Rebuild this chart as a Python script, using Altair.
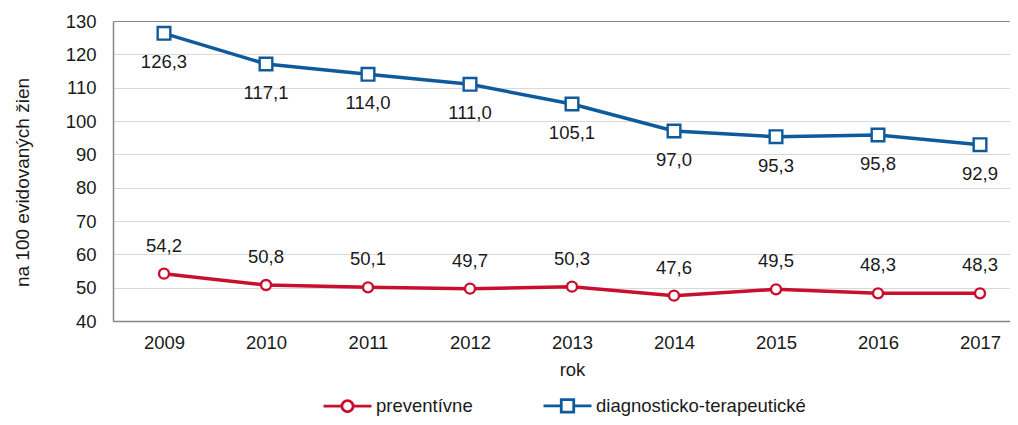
import altair as alt
import pandas as pd

years = [2009, 2010, 2011, 2012, 2013, 2014, 2015, 2016, 2017]
preventivne = [54.2, 50.8, 50.1, 49.7, 50.3, 47.6, 49.5, 48.3, 48.3]
diagnosticke = [126.3, 117.1, 114.0, 111.0, 105.1, 97.0, 95.3, 95.8, 92.9]
series_names = ["preventívne", "diagnosticko-terapeutické"]
series_colors = ["#C8102E", "#0F5A9C"]
y_ticks = [40, 50, 60, 70, 80, 90, 100, 110, 120, 130]

rows = []
for yr, v in zip(years, preventivne):
    rows.append({"year": yr, "value": v, "series": series_names[0]})
for yr, v in zip(years, diagnosticke):
    rows.append({"year": yr, "value": v, "series": series_names[1]})
df = pd.DataFrame(rows)

FONT = "Liberation Sans"
FS = 18.5
TXT = "#1a1a1a"

x_enc = alt.X(
    "year:Q",
    scale=alt.Scale(domain=[2008.5, 2017.294], nice=False, zero=False),
    axis=alt.Axis(
        values=years, format="d", grid=False, ticks=False, tickSize=0,
        labelPadding=12, labelFontSize=FS, labelFont=FONT, labelColor=TXT,
        domainColor="#868686", domainWidth=1.5,
        title="rok", titleFontSize=FS, titleFont=FONT, titleFontWeight="normal",
        titleColor=TXT, titleX=459, titleY=54, titleAlign="center",
        titleBaseline="alphabetic",
    ),
)
y_enc = alt.Y(
    "value:Q",
    scale=alt.Scale(domain=[40, 130], nice=False, zero=False),
    axis=alt.Axis(
        values=y_ticks, ticks=False, tickSize=0, labelPadding=17,
        labelFontSize=FS, labelFont=FONT, labelColor=TXT,
        domainColor="#868686", domainWidth=1.5,
        gridColor={"condition": {"test": "datum.value === 130", "value": "#868686"}, "value": "#d9d9d9"},
        gridWidth=1.2,
        title="na 100 evidovaných žien", titleFontSize=19, titleFont=FONT,
        titleFontWeight="normal", titleColor=TXT, titleAngle=-90,
        titleX=-91, titleY=161, titleAlign="center", titleBaseline="middle",
    ),
)

base = alt.Chart(df)
layers = []
shapes = ["circle", "square"]
sizes = [100, 160]
dys = [-28, 29]
for name, col, shp, sz, dy in zip(series_names, series_colors, shapes, sizes, dys):
    sub = base.transform_filter(alt.datum.series == name)
    layers.append(sub.mark_line(color=col, strokeWidth=3.5).encode(x=x_enc, y=y_enc))
    layers.append(
        sub.mark_point(shape=shp, size=sz, filled=True, fill="white", stroke=col,
                       strokeWidth=2.4, opacity=1).encode(x=x_enc, y=y_enc)
    )
    layers.append(
        sub.transform_calculate(lbl="replace(format(datum.value, '.1f'), '.', ',')")
        .mark_text(dy=dy, fontSize=FS, font=FONT, color=TXT, baseline="middle")
        .encode(x=x_enc, y=y_enc, text="lbl:N")
    )

circle_path = ("M-1,0L-0.233,0M0.233,0A0.233,0.233,0,1,1,-0.233,0"
               "A0.233,0.233,0,1,1,0.233,0M0.233,0L1,0")
square_path = ("M-1,0L-0.26,0M-0.26,-0.26L0.26,-0.26L0.26,0.26"
               "L-0.26,0.26ZM0.26,0L1,0")

legend = alt.Legend(
    title=None, orient="none", legendX=209, legendY=359, direction="horizontal",
    columns=2, columnPadding=64, labelFontSize=FS, labelFont=FONT, labelLimit=0,
    labelColor=TXT, labelOffset=3, symbolSize=2304, symbolStrokeWidth=2.8,
    symbolFillColor="white", padding=0,
)
legend_layer = (
    base.transform_filter("false")
    .mark_point(filled=True, fill="white", strokeWidth=2.8, opacity=1)
    .encode(
        stroke=alt.Stroke("series:N", scale=alt.Scale(domain=series_names, range=series_colors),
                          legend=legend),
        shape=alt.Shape("series:N", scale=alt.Scale(domain=series_names,
                                                    range=[circle_path, square_path]),
                        legend=legend),
    )
)
layers.append(legend_layer)

chart = (
    alt.layer(*layers)
    .properties(
        width=897, height=300,
        autosize=alt.AutoSizeParams(type="none"),
        padding={"left": 105, "top": 13, "right": 0, "bottom": 96},
    )
    .configure_view(stroke=None)
    .configure(background="white")
)

chart.save("out.html", embed_options={"renderer": "svg", "actions": False})
